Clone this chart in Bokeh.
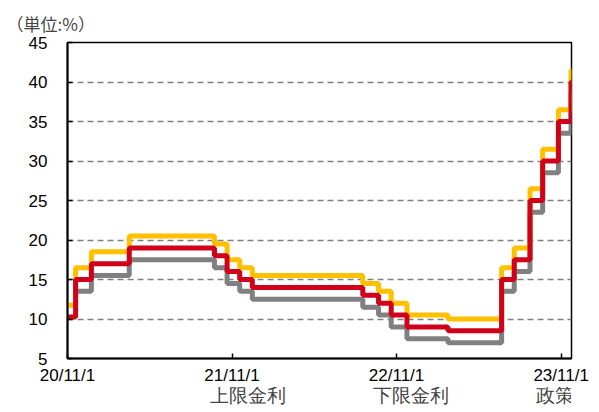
from datetime import datetime
from bokeh.plotting import figure
from bokeh.layouts import column
from bokeh.models import FixedTicker, Range1d, Legend, LegendItem
from bokeh.embed import file_html
from bokeh.resources import INLINE

# ---- data (CBRT rates, %) ----
dates = ["2020-11-01", "2020-11-19", "2020-12-24", "2021-03-18", "2021-09-23",
         "2021-10-21", "2021-11-18", "2021-12-16", "2022-08-18", "2022-09-22",
         "2022-10-20", "2022-11-24", "2023-02-23", "2023-06-22", "2023-07-20",
         "2023-08-24", "2023-09-21", "2023-10-26", "2023-11-23", "2023-11-24"]
upper = [11.75, 16.5, 18.5, 20.5, 19.5, 17.5, 16.5, 15.5, 14.5, 13.5,
         12.0, 10.5, 10.0, 16.5, 19.0, 26.5, 31.5, 36.5, 41.5, 41.5]
policy = [10.25, 15.0, 17.0, 19.0, 18.0, 16.0, 15.0, 14.0, 13.0, 12.0,
          10.5, 9.0, 8.5, 15.0, 17.5, 25.0, 30.0, 35.0, 40.0, 40.0]
lower = [None, 13.5, 15.5, 17.5, 16.5, 14.5, 13.5, 12.5, 11.5, 10.5,
         9.0, 7.5, 7.0, 13.5, 16.0, 23.5, 28.5, 33.5, 38.5, 38.5]
tick_dates = ["2020-11-01", "2021-11-01", "2022-11-01", "2023-11-01"]
tick_labels = ["20/11/1", "21/11/1", "22/11/1", "23/11/1"]
y_ticks = [5, 10, 15, 20, 25, 30, 35, 40, 45]
names = ["上限金利", "下限金利", "政策金利"]
colors = ["#FFC000", "#808080", "#D0021B"]

def ms(s):
    return datetime.strptime(s, "%Y-%m-%d").timestamp() * 1000.0

xd = [datetime.strptime(d, "%Y-%m-%d") for d in dates]

p = figure(frame_width=504, frame_height=316, x_axis_type="datetime", output_backend="svg",
           toolbar_location=None, min_border_left=67, min_border_right=28,
           min_border_top=42, min_border_bottom=2,
           x_range=Range1d(ms(dates[0]), ms(dates[-1])), y_range=Range1d(5, 45),
           title="（単位:%）")

p.title.text_font = "Noto Sans CJK JP"
p.title.text_font_size = "17px"
p.title.text_font_style = "normal"
p.title.align = "left"
p.title.offset = -61
p.title.standoff = 13

lw = 5
p.step(xd[1:], lower[1:], mode="after", line_color=colors[1], line_width=lw)
p.step(xd, upper, mode="after", line_color=colors[0], line_width=lw)
p.step(xd, policy, mode="after", line_color=colors[2], line_width=lw)

p.outline_line_color = "black"
p.outline_line_width = 1.5
p.background_fill_color = "white"
p.border_fill_color = "white"

p.xgrid.grid_line_color = None
p.ygrid.grid_line_color = "#808080"
p.ygrid.grid_line_dash = "6 4"
p.ygrid.grid_line_width = 1.5
p.ygrid.ticker = FixedTicker(ticks=[10, 15, 20, 25, 30, 35, 40])

p.yaxis.ticker = FixedTicker(ticks=y_ticks)
p.yaxis.axis_line_color = "black"
p.yaxis.axis_line_width = 2
p.yaxis.major_tick_in = 5
p.yaxis.major_tick_out = 0
p.yaxis.major_tick_line_color = "black"
p.yaxis.major_tick_line_width = 1.5
p.yaxis.minor_tick_line_color = None
p.yaxis.major_label_text_font = "Liberation Sans"
p.yaxis.major_label_text_font_size = "17px"
p.yaxis.major_label_text_color = "black"
p.yaxis.major_label_standoff = 20

tk = [ms(t) for t in tick_dates]
p.xaxis.ticker = FixedTicker(ticks=tk)
p.xaxis.major_label_overrides = {t: l for t, l in zip(tk, tick_labels)}
p.xaxis.axis_line_color = "black"
p.xaxis.axis_line_width = 2
p.xaxis.major_tick_in = 5
p.xaxis.major_tick_out = 0
p.xaxis.major_tick_line_color = "black"
p.xaxis.major_tick_line_width = 1.5
p.xaxis.minor_tick_line_color = None
p.xaxis.major_label_text_font = "Liberation Sans"
p.xaxis.major_label_text_font_size = "17px"
p.xaxis.major_label_text_color = "black"
p.xaxis.major_label_standoff = 7

# legend strip below the chart
p2 = figure(width=599, height=22, output_backend="svg", toolbar_location=None,
            min_border=0, x_axis_location=None, y_axis_location=None,
            x_range=Range1d(0, 1), y_range=Range1d(0, 1))
p2.outline_line_color = None
p2.grid.grid_line_color = None
p2.background_fill_color = "white"
p2.border_fill_color = "white"
items = []
for nm, c in zip(names, colors):
    r = p2.line([], [], line_color=c, line_width=lw)
    items.append(LegendItem(label=nm, renderers=[r]))
legend = Legend(items=items, orientation="horizontal", location=(87, 0),
                glyph_width=51, glyph_height=12, label_height=12,
                label_text_font="Liberation Sans",
                label_text_font_size="19px", label_standoff=5, spacing=31,
                padding=0, margin=0, border_line_color=None,
                background_fill_alpha=0)
p2.add_layout(legend, "center")

layout = column(p, p2, spacing=0)
open("out.html", "w").write(file_html(layout, INLINE))
